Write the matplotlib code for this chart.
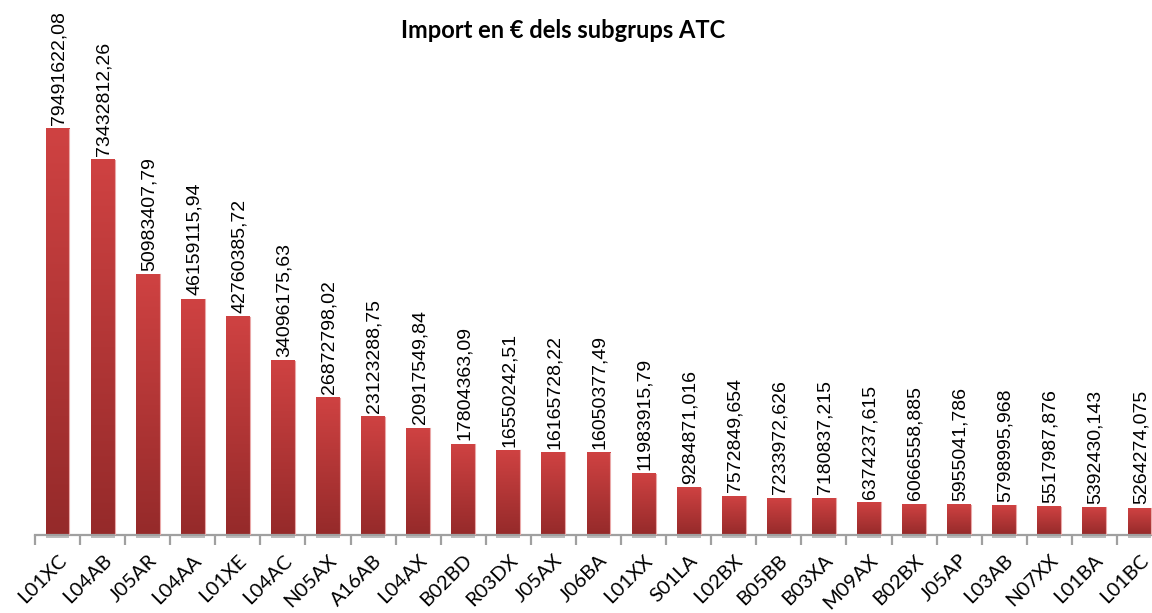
import matplotlib.pyplot as plt
import numpy as np
from matplotlib.colors import LinearSegmentedColormap

codes = [
    'L01XC', 'L04AB', 'J05AR', 'L04AA', 'L01XE', 'L04AC', 'N05AX', 'A16AB',
    'L04AX', 'B02BD', 'R03DX', 'J05AX', 'J06BA', 'L01XX', 'S01LA', 'L02BX',
    'B05BB', 'B03XA', 'M09AX', 'B02BX', 'J05AP', 'L03AB', 'N07XX', 'L01BA',
    'L01BC',
]
imports = [
    79491622.08, 73432812.26, 50983407.79, 46159115.94, 42760385.72,
    34096175.63, 26872798.02, 23123288.75, 20917549.84, 17804363.09,
    16550242.51, 16165728.22, 16050377.49, 11983915.79, 9284871.016,
    7572849.654, 7233972.626, 7180837.215, 6374237.615, 6066558.885,
    5955041.786, 5798995.968, 5517987.876, 5392430.143, 5264274.075,
]

fig = plt.figure(figsize=(11.52, 6.13), dpi=100)
# axes reaches a bit past the right edge, as in the original export
ax = fig.add_axes([35 / 1152, 1 - 535 / 613, 1127 / 1152, 535 / 613])

cmap = LinearSegmentedColormap.from_list('bar', ['#952a2a', '#cf4242'])
grad = np.linspace(0, 1, 256).reshape(-1, 1)
width = 0.53

x = np.arange(len(codes))
for xi, val in zip(x, imports):
    # light shadow under each bar
    ax.add_patch(plt.Rectangle((xi - width / 2, -0.6e6), width, 0.6e6,
                               color='#bdbdbd', lw=0, zorder=1, clip_on=False))
    ax.imshow(grad, cmap=cmap, origin='lower', aspect='auto',
              extent=(xi - width / 2, xi + width / 2, 0, val), zorder=2)
    ax.plot([xi + width / 2, xi + width / 2], [0, val], color='#eaa8a8',
            lw=0.8, zorder=3)
    ax.text(xi + 0.03, val + 0.75e6, str(val).replace('.', ','), rotation=90,
            ha='center', va='bottom', fontsize=14,
            family='Liberation Sans', color='black')

ax.set_xlim(-0.5, len(codes) - 0.5)
ax.set_ylim(0, 104.7e6)

for side in ['top', 'right', 'left']:
    ax.spines[side].set_visible(False)
ax.spines['bottom'].set_color('#a0a0a0')
ax.spines['bottom'].set_linewidth(1.6)
ax.set_yticks([])

ax.set_xticks(x)
ax.set_xticklabels(codes, rotation=45, ha='right', rotation_mode='anchor',
                   fontsize=14.5, family='Lato')
ax.tick_params(axis='x', which='major', length=0, pad=12)
ax.set_xticks(np.arange(-0.5, len(codes), 1), minor=True)
ax.tick_params(axis='x', which='minor', length=7, width=1.6, color='#a0a0a0')

fig.text(563 / 1152, 1 - 30 / 613, 'Import en € dels subgrups ATC',
         ha='center', va='center', fontsize=17, fontweight='bold',
         family='Lato')

fig.savefig('out.png', dpi=100)
